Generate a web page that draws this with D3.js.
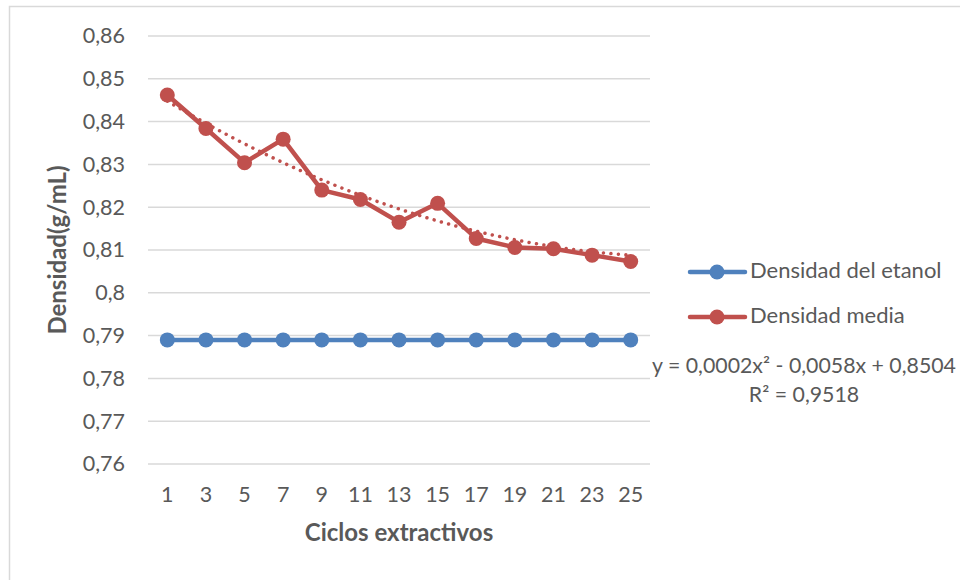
<!DOCTYPE html>
<html>
<head>
<meta charset="utf-8">
<script src="https://cdn.jsdelivr.net/npm/d3@7"></script>
<style>
  html, body { margin: 0; padding: 0; background: #fff; }
  svg { display: block; }
  text { font-family: Lato, "Open Sans", sans-serif; fill: #595959; }
</style>
</head>
<body>
<svg id="chart" width="960" height="580"></svg>
<script>
// Extraction cycles (x categories)
const ciclos = ["1", "3", "5", "7", "9", "11", "13", "15", "17", "19", "21", "23", "25"];
// Reference density of ethanol (g/mL)
const densidadEtanol = [0.789, 0.789, 0.789, 0.789, 0.789, 0.789, 0.789, 0.789, 0.789, 0.789, 0.789, 0.789, 0.789];
// Mean measured density (g/mL)
const densidadMedia = [0.8462, 0.8384, 0.8304, 0.8359, 0.8240, 0.8218, 0.8165, 0.8209, 0.8127, 0.8106, 0.8103, 0.8088, 0.8073];
// Y axis ticks
const yTicks = [0.76, 0.77, 0.78, 0.79, 0.80, 0.81, 0.82, 0.83, 0.84, 0.85, 0.86];
// Polynomial trendline coefficients (c0 + c1*x + c2*x^2, x = point index 1..n)
const trendCoef = [0.8504, -0.0058, 0.0002];
const trendEq = "y = 0,0002x² - 0,0058x + 0,8504";
const trendR2 = "R² = 0,9518";

const svg = d3.select("#chart");
const colors = { etanol: "#4F81BD", media: "#C0504D", grid: "#D9D9D9" };
const FONT = "Lato, 'Open Sans', sans-serif";

// chart area border
svg.append("rect")
  .attr("x", 9.5).attr("y", 6.5).attr("width", 1000).attr("height", 1000)
  .attr("fill", "none").attr("stroke", "#D9D9D9").attr("stroke-width", 1.5);

const plot = { left: 148, right: 650, top: 36, bottom: 464 };

const x = d3.scaleBand().domain(ciclos).range([plot.left, plot.right]);
const y = d3.scaleLinear().domain([0.76, 0.86]).range([plot.bottom, plot.top]);
const fmt = v => d3.format(".2~f")(v).replace(".", ",");

// gridlines
svg.append("g").selectAll("line").data(yTicks).join("line")
  .attr("x1", plot.left).attr("x2", plot.right)
  .attr("y1", d => y(d)).attr("y2", d => y(d))
  .attr("stroke", colors.grid).attr("stroke-width", 1.5);

// y axis labels
const yAxis = svg.append("g")
  .attr("transform", `translate(${plot.left},0)`)
  .call(d3.axisLeft(y).tickValues(yTicks).tickFormat(fmt).tickSize(0).tickPadding(23));
yAxis.select(".domain").remove();
yAxis.selectAll("text").style("font-size", "21.5px").attr("fill", "#595959")
  .style("font-family", FONT);

// x axis labels
const xAxis = svg.append("g")
  .attr("transform", `translate(0,${plot.bottom})`)
  .call(d3.axisBottom(x).tickSize(0).tickPadding(23));
xAxis.select(".domain").remove();
xAxis.selectAll("text").style("font-size", "21.5px").attr("fill", "#595959")
  .style("font-family", FONT);

// axis titles
svg.append("text")
  .attr("x", (plot.left + plot.right) / 2).attr("y", 535)
  .attr("text-anchor", "middle").attr("dominant-baseline", "middle")
  .style("font-size", "24px").style("font-weight", "bold")
  .text("Ciclos extractivos");
svg.append("text")
  .attr("transform", `translate(60,${(plot.top + plot.bottom) / 2}) rotate(-90)`)
  .attr("text-anchor", "middle").attr("dominant-baseline", "middle")
  .style("font-size", "24px").style("font-weight", "bold")
  .text("Densidad(g/mL)");

const cx = (d, i) => x(ciclos[i]) + x.bandwidth() / 2;
const line = d3.line().x(cx).y(d => y(d));

// dotted polynomial trendline
const idx = d3.range(1, ciclos.length + 0.001, 0.05);
const xIdx = d3.scaleLinear().domain([1, ciclos.length])
  .range([x(ciclos[0]) + x.bandwidth() / 2, x(ciclos[ciclos.length - 1]) + x.bandwidth() / 2]);
svg.append("path")
  .datum(idx)
  .attr("d", d3.line().x(t => xIdx(t)).y(t => y(trendCoef[0] + trendCoef[1] * t + trendCoef[2] * t * t)))
  .attr("fill", "none").attr("stroke", colors.media).attr("stroke-width", 3.5)
  .attr("stroke-linecap", "round").attr("stroke-dasharray", "0.01 7.5");

// series
const series = [
  { name: "Densidad del etanol", values: densidadEtanol, color: colors.etanol },
  { name: "Densidad media", values: densidadMedia, color: colors.media }
];
series.forEach(s => {
  svg.append("path").datum(s.values)
    .attr("d", line).attr("fill", "none")
    .attr("stroke", s.color).attr("stroke-width", 4.5).attr("stroke-linejoin", "round");
  svg.append("g").selectAll("circle").data(s.values).join("circle")
    .attr("cx", cx).attr("cy", d => y(d)).attr("r", 7.5).attr("fill", s.color);
});

// legend
const legend = svg.append("g");
series.forEach((s, i) => {
  const ly = 272 + i * 45;
  legend.append("line").attr("x1", 690).attr("x2", 745).attr("y1", ly).attr("y2", ly)
    .attr("stroke", s.color).attr("stroke-width", 4.5).attr("stroke-linecap", "round");
  legend.append("circle").attr("cx", 717).attr("cy", ly).attr("r", 7.5).attr("fill", s.color);
  legend.append("text").attr("x", 750).attr("y", ly).attr("dominant-baseline", "middle")
    .style("font-size", "22px").text(s.name);
});

// trendline equation label
svg.append("text").attr("x", 804).attr("y", 368).attr("text-anchor", "middle")
  .attr("dominant-baseline", "middle").style("font-size", "21.3px").text(trendEq);
svg.append("text").attr("x", 804).attr("y", 397).attr("text-anchor", "middle")
  .attr("dominant-baseline", "middle").style("font-size", "21.3px").text(trendR2);
</script>
</body>
</html>
